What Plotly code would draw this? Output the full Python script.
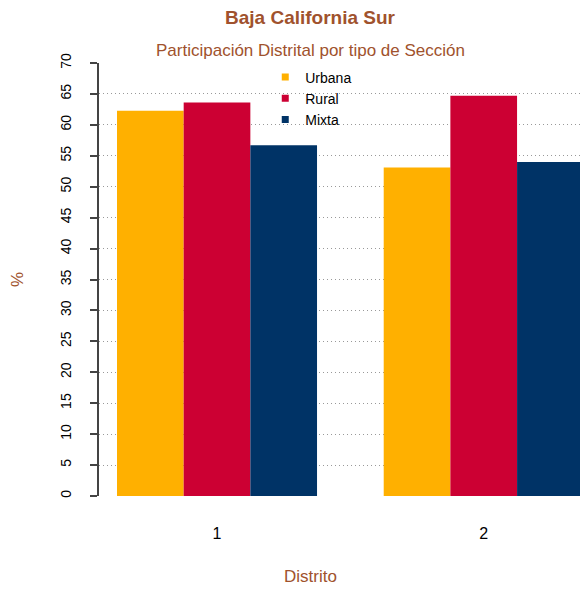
import plotly.graph_objects as go

distritos = ["1", "2"]
series_names = ["Urbana", "Rural", "Mixta"]
urbana = [62.3, 53.1]
rural = [63.6, 64.7]
mixta = [56.7, 54.0]
colors = ["#FFB000", "#CC0033", "#003366"]
y_ticks = list(range(0, 75, 5))

title = "Baja California Sur"
subtitle = "Participación Distrital por tipo de Sección"
xlab = "Distrito"
ylab = "%"
brown = "#A0522D"

fig = go.Figure()
for name, vals, col in zip(series_names, [urbana, rural, mixta], colors):
    fig.add_trace(go.Bar(x=distritos, y=vals, name=name, marker=dict(color=col, line=dict(width=0)),
                         showlegend=False))
# legend entries with small square symbols
for name, col in zip(series_names, colors):
    fig.add_trace(go.Scatter(x=[None], y=[None], mode="markers", name=name,
                             marker=dict(symbol="square", size=7, color=col)))

fig.update_layout(
    width=580, height=581,
    margin=dict(l=91, r=0, t=55, b=93),
    paper_bgcolor="white", plot_bgcolor="white",
    barmode="group", bargap=0.25, bargroupgap=0,
    font=dict(family="Liberation Sans, Arial, sans-serif", color="black", size=14),
    showlegend=True,
    legend=dict(x=0.340, y=1.0035, xanchor="left", yanchor="top", bgcolor="rgba(0,0,0,0)",
                font=dict(size=14), tracegroupgap=0, itemwidth=30),
    xaxis=dict(type="category", range=[-0.4425, 1.391], showline=False, ticks="",
               showgrid=False, zeroline=False, tickfont=dict(size=16),
               ticklabelstandoff=26),
    yaxis=dict(range=[0, 70], tickvals=y_ticks, tickangle=-90, showline=True,
               linecolor="#444", linewidth=1.5, ticks="outside", ticklen=7,
               tickwidth=1.5, tickcolor="#444", showgrid=True, gridcolor="#999999",
               griddash="1px,3px", gridwidth=1, zeroline=False, tickfont=dict(size=14),
               ticklabelstandoff=14),
    annotations=[
        dict(text="<b>" + title + "</b>", xref="paper", yref="paper", x=0.4315, y=1.106,
             xanchor="center", yanchor="middle", showarrow=False,
             font=dict(size=19, color=brown)),
        dict(text=subtitle, xref="paper", yref="paper", x=0.4335, y=1.028,
             xanchor="center", yanchor="middle", showarrow=False,
             font=dict(size=17, color=brown)),
        dict(text=xlab, xref="paper", yref="paper", x=0.4335, y=-0.187,
             xanchor="center", yanchor="middle", showarrow=False,
             font=dict(size=17, color=brown)),
        dict(text=ylab, xref="paper", yref="paper", x=-0.1656, y=0.499, textangle=-90,
             xanchor="center", yanchor="middle", showarrow=False,
             font=dict(size=17, color=brown)),
    ],
)

fig.write_html("out.html")
